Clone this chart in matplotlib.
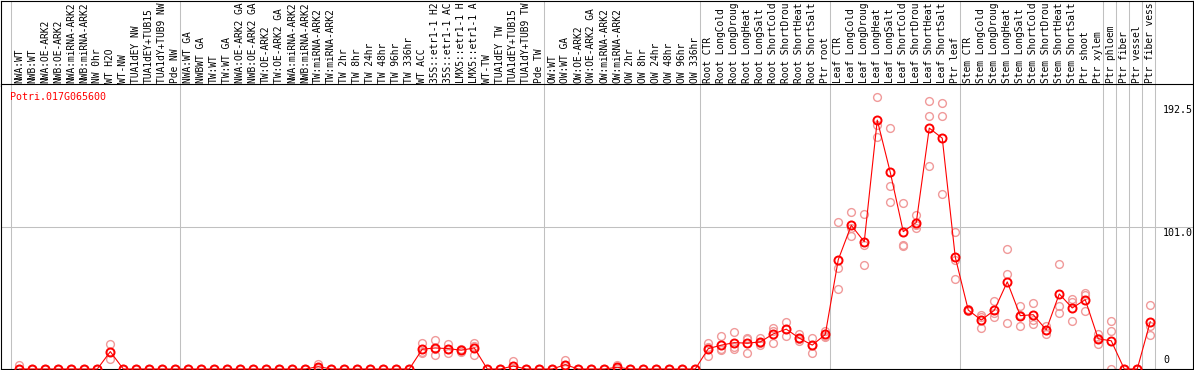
import matplotlib
matplotlib.use("Agg")
import matplotlib.pyplot as plt
import matplotlib.transforms as mtransforms

gene = "Potri.017G065600"

labels = [
    "NWA:WT", "NWB:WT", "NWA:OE-ARK2", "NWB:OE-ARK2", "NWA:miRNA-ARK2", "NWB:miRNA-ARK2",
    "NW 0hr", "WT H2O", "WT-NW", "TUA1dEY NW", "TUA1dEY+TUB15", "TUA1dY+TUB9 NW", "Pde NW",
    "NWA:WT GA", "NWBWT GA", "TW:WT", "TW:WT GA", "NWA:OE-ARK2 GA", "NWB:OE-ARK2 GA",
    "TW:OE-ARK2", "TW:OE-ARK2 GA", "NWA:miRNA-ARK2", "NWB:miRNA-ARK2", "TW:miRNA-ARK2",
    "TW:miRNA-ARK2", "TW 2hr", "TW 8hr", "TW 24hr", "TW 48hr", "TW 96hr", "TW 336hr",
    "WT ACC", "35S::etr1-1 H2", "35S::etr1-1 AC", "LMX5::etr1-1 H", "LMX5::etr1-1 A",
    "WT-TW", "TUA1dEY TW", "TUA1dEY+TUB15", "TUA1dY+TUB9 TW", "Pde TW",
    "OW:WT", "OW:WT GA", "OW:OE-ARK2", "OW:OE-ARK2 GA", "OW:miRNA-ARK2", "OW:miRNA-ARK2",
    "OW 2hr", "OW 8hr", "OW 24hr", "OW 48hr", "OW 96hr", "OW 336hr",
    "Root CTR", "Root LongCold", "Root LongDroug", "Root LongHeat", "Root LongSalt",
    "Root ShortCold", "Root ShortDrou", "Root ShortHeat", "Root ShortSalt", "Ptr root",
    "Leaf CTR", "Leaf LongCold", "Leaf LongDroug", "Leaf LongHeat", "Leaf LongSalt",
    "Leaf ShortCold", "Leaf ShortDrou", "Leaf ShortHeat", "Leaf ShortSalt", "Ptr leaf",
    "Stem CTR", "Stem LongCold", "Stem LongDroug", "Stem LongHeat", "Stem LongSalt",
    "Stem ShortCold", "Stem ShortDrou", "Stem ShortHeat", "Stem ShortSalt", "Ptr shoot",
    "Ptr xylem", "Ptr phloem", "Ptr fiber", "Ptr vessel", "Ptr fiber vess",
]

# mean expression per sample
means = [
    0, 0, 0, 0, 0, 0, 0, 12.4, 0, 0, 0, 0, 0,
    0, 0, 0, 0, 0, 0, 0, 0, 0, 0, 1.7, 0, 0, 0, 0, 0,
    0, 0, 14.1, 15.0, 14.5, 13.4, 15.0, 0, 0, 2.1, 0, 0,
    0, 3.1, 0, 0, 0, 1.2, 0, 0, 0, 0, 0, 0,
    14.5, 17.0, 18.8, 18.4, 19.3, 25.0, 28.4, 22.0, 17.0, 24.6,
    77.9, 102.4, 90.7, 177.4, 140.2, 97.9, 104.4, 171.7, 164.5, 79.7,
    42.0, 34.9, 41.8, 62.1, 38.0, 38.7, 27.9, 53.5, 43.5, 49.4,
    21.5, 20.1, 0, 0, 33.7,
]

# replicates
rep1 = [
    3.1, 0, 0, 0, 0, 0, 0, 17.9, 0, 0, 0, 0, 0,
    0, 0, 0, 0, 0, 0, 0, 0, 0, 0, 3.4, 0, 0, 0, 0, 0,
    0, 0, 18.8, 20.8, 17.9, 14.5, 18.8, 0, 0, 5.9, 0, 0,
    0, 6.4, 0, 0, 0, 2.6, 0, 0, 0, 0, 0, 0,
    18.4, 23.6, 26.5, 22.4, 22.4, 29.4, 33.2, 25.0, 22.4, 27.4,
    105.1, 112.2, 110.8, 193.9, 171.7, 118.0, 109.6, 190.8, 189.6, 97.9,
    43.0, 38.2, 48.7, 85.7, 45.1, 47.1, 30.8, 75.0, 50.1, 54.2,
    24.9, 34.2, 0, 0, 45.6,
]
rep2 = [
    0, 0, 0, 0, 0, 0, 0, 7.4, 0, 0, 0, 0, 0,
    0, 0, 0, 0, 0, 0, 0, 0, 0, 0, 1.0, 0, 0, 0, 0, 0,
    0, 0, 11.2, 9.8, 11.7, 12.4, 9.8, 0, 0, 0, 0, 0,
    0, 3.0, 0, 0, 0, 1.0, 0, 0, 0, 0, 0, 0,
    9.3, 14.1, 16.0, 11.2, 17.2, 18.4, 23.6, 19.8, 11.7, 22.7,
    71.8, 94.8, 88.3, 173.6, 130.2, 88.1, 100.8, 180.3, 180.3, 63.8,
    41.0, 29.2, 37.0, 67.8, 30.6, 35.1, 24.9, 44.6, 48.0, 52.8,
    17.7, 27.0, 0, 0, 30.3,
]
rep3 = [
    0, 0, 0, 0, 0, 0, 0, 12.0, 0, 0, 0, 0, 0,
    0, 0, 0, 0, 0, 0, 0, 0, 0, 0, 0.6, 0, 0, 0, 0, 0,
    0, 0, 12.3, 14.4, 14.0, 13.3, 16.4, 0, 0, 0.4, 0, 0,
    0, 0, 0, 0, 0, 0, 0, 0, 0, 0, 0, 0,
    15.8, 13.3, 14.5, 21.6, 18.3, 27.2, 28.4, 21.2, 16.9, 23.7,
    57.1, 100.2, 74.3, 165.3, 118.7, 87.6, 102.8, 144.5, 124.4, 77.4,
    42.0, 37.3, 39.7, 32.7, 38.3, 32.2, 28.0, 39.9, 33.9, 41.3,
    21.9, 0, 0, 0, 24.1,
]

# first column of each block (vertical separators)
group_starts = [0, 13, 41, 53, 63, 73, 84, 85, 86, 87, 88]
scale_values = [192.5, 101.0, 0]
scale_texts = ["192.5", "101.0", "0"]

W, H = 1194, 370
fig = plt.figure(figsize=(W / 100, H / 100), dpi=100)
mono = "DejaVu Sans Mono"
fs = 7.2
grey = "#c0c0c0"
pink = "#f09a9a"

xs = list(range(len(labels)))
xlim = (-1.408, 90.25)

head = fig.add_axes([1 / W, 1 - 85.7 / H, 1191.5 / W, 85.2 / H])
ax = fig.add_axes([1 / W, 1 / H, 1191.5 / W, 284.7 / H])

for a in (head, ax):
    a.set_xlim(*xlim)
    a.set_xticks([])
    a.set_yticks([])
    for s in a.spines.values():
        s.set_color("black")
        s.set_linewidth(0.8)
    for g in group_starts:
        a.axvline(g - 0.615, color=grey, lw=0.75, zorder=0)

ax.set_ylim(0, 202.9)
head.set_ylim(0, 1)

# column labels
trans = mtransforms.blended_transform_factory(head.transData, head.transAxes)
for x, lab in zip(xs, labels):
    head.text(x, 0.03, lab, rotation=90, ha="center", va="bottom",
              family=mono, fontsize=6.95, transform=trans)

ax.axhline(101.0, color=grey, lw=0.75, zorder=0)

for rep in (rep1, rep2, rep3):
    ax.plot(xs, rep, "o", mfc="none", mec=pink, ms=5.6, mew=1.0, zorder=2, clip_on=False)
ax.plot(xs, means, color="red", lw=0.8, zorder=3, clip_on=False)
ax.plot(xs, means, "o", mfc="none", mec="red", ms=5.8, mew=1.4, zorder=4, clip_on=False)

# scale labels on the right
offsets = [-6, -1, 4]
vas = ["top", "top", "bottom"]
for v, t, off, va in zip(scale_values, scale_texts, offsets, vas):
    ax.annotate(t, (88, v), xytext=(0, off * 0.72), textcoords="offset points",
                ha="left", va=va, family=mono, fontsize=fs)

fig.text(10 / W, 1 - 92.5 / H, gene, color="red", va="top", ha="left",
         family=mono, fontsize=fs)

fig.savefig("out.png", dpi=100)
